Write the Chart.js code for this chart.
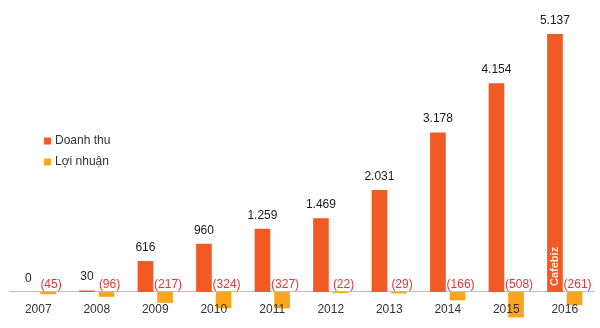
<!DOCTYPE html>
<html lang="vi">
<head>
<meta charset="utf-8">
<script src="https://cdn.jsdelivr.net/npm/chart.js@4.4.1/dist/chart.umd.min.js"></script>
<style>
  html, body { margin: 0; padding: 0; background: #fff; }
</style>
</head>
<body>
<canvas id="revenue-chart" width="600" height="328"></canvas>
<script>
const years = ['2007', '2008', '2009', '2010', '2011', '2012', '2013', '2014', '2015', '2016'];
const doanhThu = [0, 30, 616, 960, 1259, 1469, 2031, 3178, 4154, 5137];
const loiNhuan = [-45, -96, -217, -324, -327, -22, -29, -166, -508, -261];
const seriesNames = ['Doanh thu', 'Lợi nhuận'];
const seriesColors = ['#f15a24', '#fba51d'];

const FONT = '"Liberation Sans", Arial, sans-serif';

function numberFormat(value) {
  return String(value).replace(/\B(?=(\d{3})+(?!\d))/g, '.');
}

const valueLabels = {
  id: 'valueLabels',
  afterDatasetsDraw(chart) {
    const ctx = chart.ctx;
    const zeroY = chart.scales.y.getPixelForValue(0);
    ctx.save();
    ctx.font = '12px ' + FONT;
    ctx.textAlign = 'center';
    ctx.textBaseline = 'alphabetic';

    chart.getDatasetMeta(0).data.forEach((bar, i) => {
      ctx.fillStyle = '#1a1a1a';
      ctx.fillText(numberFormat(doanhThu[i]), bar.x, bar.y - 10);
    });

    chart.getDatasetMeta(1).data.forEach((bar, i) => {
      ctx.fillStyle = '#e0353b';
      ctx.fillText('(' + numberFormat(-loiNhuan[i]) + ')', bar.x + 3, zeroY - 4);
    });

    // watermark inside the last revenue bar
    const last = chart.getDatasetMeta(0).data[years.length - 1];
    ctx.translate(last.x, zeroY - 6);
    ctx.rotate(-Math.PI / 2);
    ctx.fillStyle = 'rgba(255,255,255,0.9)';
    ctx.font = 'bold 11px ' + FONT;
    ctx.textAlign = 'left';
    ctx.textBaseline = 'middle';
    ctx.fillText('Cafebiz', 0, 0);
    ctx.restore();
  },
  afterDraw(chart) {
    const ctx = chart.ctx;
    ctx.save();
    ctx.font = '12px ' + FONT;
    ctx.textBaseline = 'middle';
    chart.data.datasets.forEach((ds, i) => {
      const y = 141 + i * 21;
      ctx.fillStyle = ds.backgroundColor;
      ctx.fillRect(44, y - 3.5, 7, 7);
      ctx.fillStyle = '#333';
      ctx.fillText(ds.label, 55, y);
    });
    ctx.restore();
  }
};

function revenueChart() {
  const ctx = document.getElementById('revenue-chart');
  const data = {
    labels: years,
    datasets: [
      {
        label: seriesNames[0],
        data: doanhThu,
        backgroundColor: seriesColors[0],
        barPercentage: 0.8,
        categoryPercentage: 0.67,
      },
      {
        label: seriesNames[1],
        data: loiNhuan,
        backgroundColor: seriesColors[1],
        barPercentage: 0.8,
        categoryPercentage: 0.67,
      },
    ],
  };

  new Chart(ctx, {
    type: 'bar',
    data,
    plugins: [valueLabels],
    options: {
      responsive: false,
      animation: false,
      layout: { padding: { left: 9, right: 6, top: 0, bottom: 0 } },
      scales: {
        x: {
          position: { y: 0 },
          grid: { display: false, drawTicks: false },
          border: { display: true, color: '#bdbdbd', width: 1 },
          ticks: { z: 1, color: '#333', padding: 10, font: { size: 12, family: FONT } },
        },
        y: {
          display: false,
          min: -717,
          max: 5814,
        },
      },
      plugins: {
        legend: { display: false },
        tooltip: { enabled: false },
      },
    },
  });
}

revenueChart();
</script>
</body>
</html>
